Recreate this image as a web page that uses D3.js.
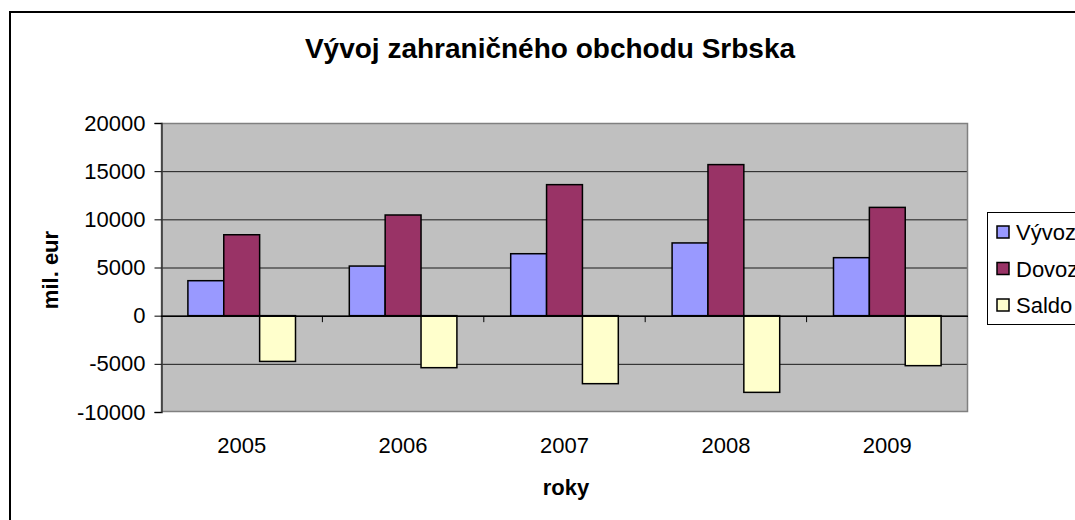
<!DOCTYPE html>
<html>
<head>
<meta charset="utf-8">
<script src="https://cdn.jsdelivr.net/npm/d3@7"></script>
<style>
  body { margin: 0; background: #fff; }
  svg text { font-family: "Liberation Sans", Arial, sans-serif; fill: #000; }
</style>
</head>
<body>
<div id="chart"></div>
<script>
// Data
const years = ["2005", "2006", "2007", "2008", "2009"];
const seriesNames = ["Vývoz", "Dovoz", "Saldo"];
const vyvoz = [3630, 5150, 6430, 7550, 6020];
const dovoz = [8400, 10450, 13600, 15680, 11240];
const saldo = [-4750, -5400, -7060, -7960, -5190];
const yTicks = [-10000, -5000, 0, 5000, 10000, 15000, 20000];
const colors = ["#9999FF", "#993366", "#FFFFCC"];

const data = years.map((y, i) => ({ year: y, values: [vyvoz[i], dovoz[i], saldo[i]] }));

const W = 1075, H = 520;
const plot = { left: 161, right: 968, top: 123, bottom: 412 };

const svg = d3.select("#chart").append("svg")
    .attr("width", W)
    .attr("height", H);

// outer chart border
svg.append("rect")
    .attr("x", 10).attr("y", 12)
    .attr("width", W + 20).attr("height", H + 20)
    .attr("fill", "#fff")
    .attr("stroke", "#000")
    .attr("stroke-width", 2);

// scales
const x0 = d3.scaleBand()
    .domain(years)
    .range([plot.left, plot.right])
    .paddingInner(1 / 3)
    .paddingOuter(1 / 6);

const x1 = d3.scaleBand()
    .domain(seriesNames)
    .range([0, x0.bandwidth()]);

const y = d3.scaleLinear()
    .domain([-10000, 20000])
    .range([plot.bottom, plot.top]);

const color = d3.scaleOrdinal().domain(seriesNames).range(colors);

// plot area background
svg.append("rect")
    .attr("x", plot.left).attr("y", plot.top)
    .attr("width", plot.right - plot.left)
    .attr("height", plot.bottom - plot.top)
    .attr("fill", "#C0C0C0");

// gridlines
svg.append("g")
    .selectAll("line")
    .data(yTicks.filter(t => t > -10000 && t < 20000))
    .enter().append("line")
    .attr("x1", plot.left).attr("x2", plot.right)
    .attr("y1", d => y(d) + 0.5).attr("y2", d => y(d) + 0.5)
    .attr("stroke", "#1a1a1a")
    .attr("stroke-width", 1);

// plot area border
svg.append("rect")
    .attr("x", plot.left + 0.5).attr("y", plot.top + 0.5)
    .attr("width", plot.right - plot.left - 1)
    .attr("height", plot.bottom - plot.top - 1)
    .attr("fill", "none")
    .attr("stroke", "#808080")
    .attr("stroke-width", 1.5);

// bars
const groups = svg.selectAll(".grp")
    .data(data)
    .enter().append("g")
    .attr("class", "grp")
    .attr("transform", d => `translate(${x0(d.year)},0)`);

groups.selectAll("rect")
    .data(d => d.values.map((v, i) => ({ name: seriesNames[i], value: v })))
    .enter().append("rect")
    .attr("x", d => x1(d.name))
    .attr("y", d => Math.min(y(d.value), y(0)))
    .attr("width", x1.bandwidth())
    .attr("height", d => Math.abs(y(d.value) - y(0)))
    .attr("fill", d => color(d.name))
    .attr("stroke", "#000")
    .attr("stroke-width", 1.5);

// y axis (plain hyphen for negatives, like the original)
const yAxis = svg.append("g")
    .attr("transform", `translate(${plot.left + 0.5},0)`)
    .call(d3.axisLeft(y).tickValues(yTicks).tickSize(7).tickPadding(9).tickFormat(d => String(d)));
yAxis.select(".domain").attr("stroke", "#333").attr("stroke-width", 1.5);
yAxis.selectAll(".tick line").attr("stroke", "#000");
yAxis.selectAll("text")
    .style("font-size", "22px")
    .style("font-family", "Liberation Sans, Arial, sans-serif");

// x axis at zero with ticks on category boundaries
const zeroY = y(0) + 0.5;
svg.append("line")
    .attr("x1", plot.left).attr("x2", plot.right)
    .attr("y1", zeroY).attr("y2", zeroY)
    .attr("stroke", "#000").attr("stroke-width", 1.5);

const boundaries = d3.range(years.length + 1).map(i => plot.left + i * x0.step());
svg.append("g")
    .selectAll("line")
    .data(boundaries.slice(1, -1))
    .enter().append("line")
    .attr("x1", d => d).attr("x2", d => d)
    .attr("y1", zeroY).attr("y2", zeroY + 6)
    .attr("stroke", "#000");

// category labels below plot
svg.append("g")
    .selectAll("text")
    .data(years)
    .enter().append("text")
    .attr("x", d => x0(d) + x0.bandwidth() / 2)
    .attr("y", 453)
    .attr("text-anchor", "middle")
    .style("font-size", "22px")
    .text(d => d);

// title
svg.append("text")
    .attr("x", 550)
    .attr("y", 58)
    .attr("text-anchor", "middle")
    .style("font-size", "28px")
    .style("font-weight", "bold")
    .text("Vývoj zahraničného obchodu Srbska");

// axis titles
svg.append("text")
    .attr("x", 566)
    .attr("y", 495)
    .attr("text-anchor", "middle")
    .style("font-size", "22px")
    .style("font-weight", "bold")
    .text("roky");

svg.append("text")
    .attr("transform", "rotate(-90)")
    .attr("x", -270)
    .attr("y", 58)
    .attr("text-anchor", "middle")
    .style("font-size", "22px")
    .style("font-weight", "bold")
    .text("mil. eur");

// legend
const legend = svg.append("g");
legend.append("rect")
    .attr("x", 987.5).attr("y", 212.5)
    .attr("width", 120).attr("height", 112)
    .attr("fill", "#fff")
    .attr("stroke", "#000")
    .attr("stroke-width", 1);

seriesNames.forEach((name, i) => {
    const cy = 232 + i * 36.5;
    legend.append("rect")
        .attr("x", 997).attr("y", cy - 6)
        .attr("width", 12).attr("height", 12)
        .attr("fill", color(name))
        .attr("stroke", "#000")
        .attr("stroke-width", 1.5);
    legend.append("text")
        .attr("x", 1016)
        .attr("y", cy + 8)
        .style("font-size", "22px")
        .text(name);
});
</script>
</body>
</html>
